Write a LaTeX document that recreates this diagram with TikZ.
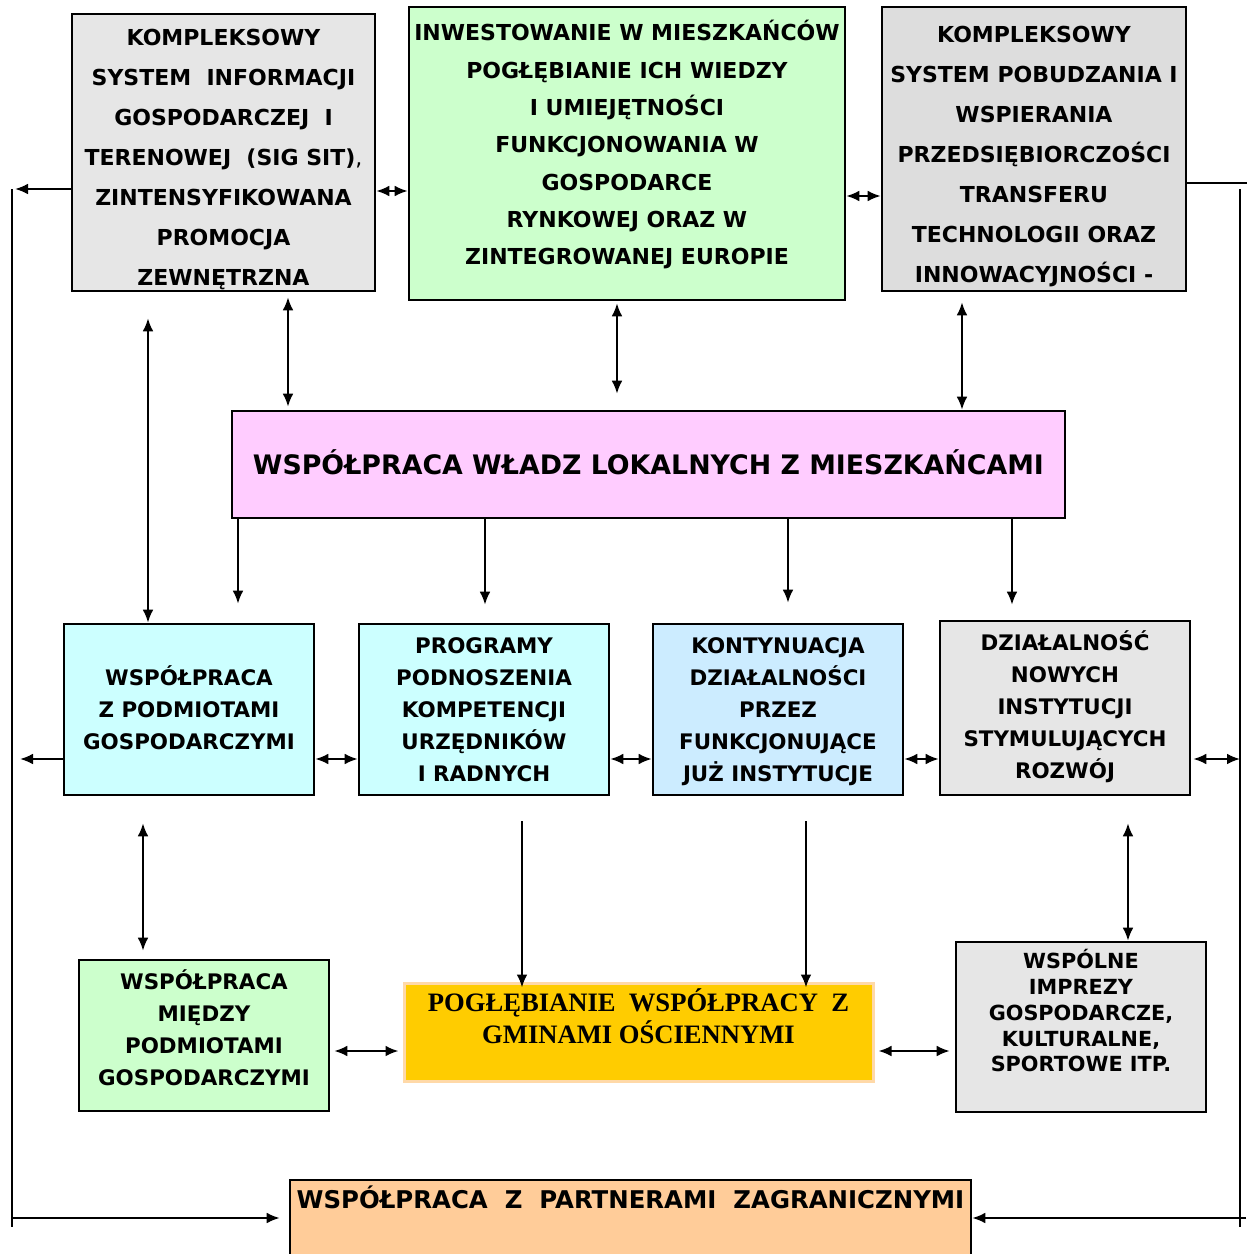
\documentclass[tikz,border=0pt]{standalone}
\usepackage{fontspec}
\setmainfont{DejaVu Sans}
\newfontfamily\tnr{Liberation Serif}
\usetikzlibrary{arrows.meta}
\definecolor{cGrayA}{HTML}{E6E6E6}
\definecolor{cGrayC}{HTML}{DDDDDD}
\definecolor{cGreen}{HTML}{CCFFCC}
\definecolor{cPink}{HTML}{FFCCFF}
\definecolor{cCyan}{HTML}{CCFFFF}
\definecolor{cBlue}{HTML}{CCECFF}
\definecolor{cGold}{HTML}{FFCC00}
\definecolor{cPeach}{HTML}{FFCC99}
\definecolor{cPeachLine}{HTML}{FFD9A8}
\newcommand\bxtext[6]{\parbox[c][#2pt][t]{#1pt}{\centering\fontsize{#4}{#5}\selectfont\bfseries\rule{0pt}{#3pt}#6\par}}
\tikzset{
  bx/.style={draw, line width=1.3pt, inner sep=0pt},
  ar/.style={line width=1pt, -{Latex[length=6.5pt,width=5.4pt]}},
  dar/.style={line width=1pt, {Latex[length=6.5pt,width=5.4pt]}-{Latex[length=6.5pt,width=5.4pt]}},
  frame/.style={line width=0.8pt}
}
\begin{document}
\begin{tikzpicture}[x=0.5pt,y=-0.5pt]
\useasboundingbox (0,0) rectangle (1254,1254);
% top row
\node[bx, fill=cGrayA] (A) at (223.5,152.5) {\bxtext{151.5}{138.5}{15.5}{11}{20}{KOMPLEKSOWY\\SYSTEM\ \ INFORMACJI\\GOSPODARCZEJ\ \ I\\TERENOWEJ\ \ (SIG SIT){\mdseries,}\\ZINTENSYFIKOWANA\\PROMOCJA\\ZEWNĘTRZNA}};
\node[bx, fill=cGreen] (B) at (627,153.5) {\bxtext{218}{146.5}{16.85}{11}{18.67}{INWESTOWANIE W MIESZKAŃCÓW\\POGŁĘBIANIE ICH WIEDZY\\I UMIEJĘTNOŚCI\\FUNKCJONOWANIA W\\GOSPODARCE\\RYNKOWEJ ORAZ W\\ZINTEGROWANEJ EUROPIE}};
\node[bx, fill=cGrayC] (C) at (1034,149) {\bxtext{152}{142}{17.75}{11}{20}{KOMPLEKSOWY\\SYSTEM POBUDZANIA I\\WSPIERANIA\\PRZEDSIĘBIORCZOŚCI\\TRANSFERU\\TECHNOLOGII ORAZ\\INNOWACYJNOŚCI -}};
% middle
\node[bx, fill=cPink] (D) at (648.5,464.5) {\bxtext{416.5}{53.5}{31.9}{13.4}{20}{WSPÓŁPRACA WŁADZ LOKALNYCH Z MIESZKAŃCAMI}};
% third row
\node[bx, fill=cCyan] (E1) at (189,709.5) {\bxtext{125}{85.5}{30.9}{10.7}{16}{WSPÓŁPRACA\\Z PODMIOTAMI\\GOSPODARCZYMI}};
\node[bx, fill=cCyan] (E2) at (484,709.5) {\bxtext{125}{85.5}{14.9}{10.7}{16}{PROGRAMY\\PODNOSZENIA\\KOMPETENCJI\\URZĘDNIKÓW\\I RADNYCH}};
\node[bx, fill=cBlue] (E3) at (778,709.5) {\bxtext{125}{85.5}{14.9}{10.7}{16}{KONTYNUACJA\\DZIAŁALNOŚCI\\PRZEZ\\FUNKCJONUJĄCE\\JUŻ INSTYTUCJE}};
\node[bx, fill=cGrayA] (E4) at (1065,708) {\bxtext{125}{87}{14.9}{10.7}{16}{DZIAŁALNOŚĆ\\NOWYCH\\INSTYTUCJI\\STYMULUJĄCYCH\\ROZWÓJ}};
% fourth row
\node[bx, fill=cGreen] (F1) at (204,1035.5) {\bxtext{125}{75.5}{14.9}{10.7}{16}{WSPÓŁPRACA\\MIĘDZY\\PODMIOTAMI\\GOSPODARCZYMI}};
\node[draw=cPeachLine, line width=1.5pt, inner sep=0pt, fill=cGold] (F2) at (638.5,1032) {\bxtext{234.5}{49}{14.4}{13.3}{16}{\tnr POGŁĘBIANIE\ \ WSPÓŁPRACY\ \ Z\\GMINAMI OŚCIENNYMI}};
\node[bx, fill=cGrayA] (F3) at (1081,1027) {\bxtext{125}{85}{13.3}{10.4}{12.9}{WSPÓLNE\\IMPREZY\\GOSPODARCZE,\\KULTURALNE,\\SPORTOWE ITP.}};
% bottom
\node[bx, fill=cPeach] (G) at (630.5,1240) {\bxtext{340.5}{60}{14.45}{12.2}{16}{WSPÓŁPRACA\ \ Z\ \ PARTNERAMI\ \ ZAGRANICZNYMI}};
% frame lines
\coordinate (LTop) at (12,189);
\coordinate (LBot) at (12,1227);
\coordinate (RTop) at (1240,189);
\coordinate (RBot) at (1240,1227);
\draw[frame] (LTop) -- (LBot);
\draw[frame] (RTop) -- (RBot);
\coordinate (LT) at (15,189);
\draw[ar] (A.west |- 0,189) -- (LT);
\coordinate (RT) at (1247,183);
\draw[line width=1pt] (C.east |- 0,183) -- (RT);
% top row links
\draw[dar] (A.east |- 0,191) -- (B.west |- 0,191);
\draw[dar] (B.east |- 0,196) -- (C.west |- 0,196);
\draw[dar, shorten <=2.5pt, shorten >=1.5pt] (A.south -| 288,0) -- (D.north -| 288,0);
\draw[dar, shorten <=1pt, shorten >=8pt] (B.south -| 617,0) -- (D.north -| 617,0);
\draw[dar, shorten <=5pt] (C.south -| 962,0) -- (D.north -| 962,0);
\draw[dar, shorten <=13pt] (A.south -| 148,0) -- (E1.north -| 148,0);
% D to third row
\draw[ar, shorten >=9.5pt] (D.south -| 238,0) -- (E1.north -| 238,0);
\draw[ar, shorten >=9pt] (D.south -| 485,0) -- (E2.north -| 485,0);
\draw[ar, shorten >=10pt] (D.south -| 788,0) -- (E3.north -| 788,0);
\draw[ar, shorten >=7.5pt] (D.south -| 1012,0) -- (E4.north -| 1012,0);
% third row links
\coordinate (LE) at (20,759);
\draw[ar] (E1.west |- 0,759) -- (LE);
\draw[dar] (E1.east |- 0,759) -- (E2.west |- 0,759);
\draw[dar] (E2.east |- 0,759) -- (E3.west |- 0,759);
\draw[dar] (E3.east |- 0,759) -- (E4.west |- 0,759);
\coordinate (RE) at (1240,759);
\draw[dar, shorten <=1pt] (E4.east |- 0,759) -- (RE);
% third to fourth
\draw[dar, shorten <=13.5pt, shorten >=4pt] (E1.south -| 143,0) -- (F1.north -| 143,0);
\draw[ar, shorten <=12.5pt, shorten >=-3pt] (E2.south -| 522,0) -- (F2.north -| 522,0);
\draw[ar, shorten <=12.5pt, shorten >=-3pt] (E3.south -| 806,0) -- (F2.north -| 806,0);
\draw[dar, shorten <=13.5pt] (E4.south -| 1128,0) -- (F3.north -| 1128,0);
% fourth row links
\draw[dar, shorten <=2pt, shorten >=2pt] (F1.east |- 0,1051) -- (F2.west |- 0,1051);
\draw[dar, shorten <=2pt, shorten >=2.5pt] (F2.east |- 0,1051) -- (F3.west |- 0,1051);
% bottom links
\coordinate (LB) at (12,1218);
\draw[ar, shorten >=4.5pt] (LB) -- (G.west |- 0,1218);
\coordinate (RB) at (1246,1218);
\draw[ar] (RB) -- (G.east |- 0,1218);
\end{tikzpicture}
\end{document}
